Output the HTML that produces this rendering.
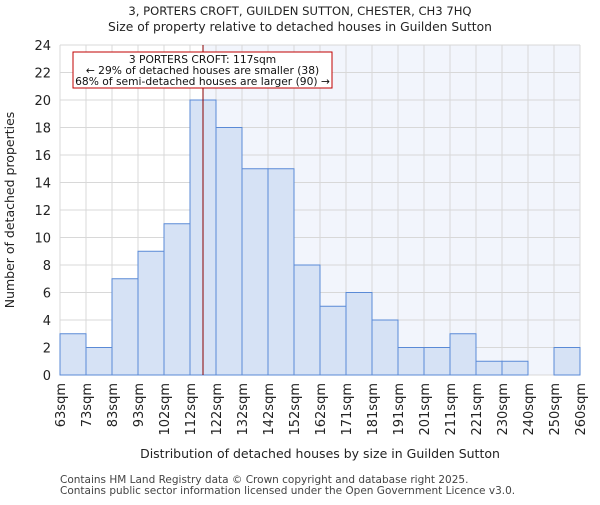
<!DOCTYPE html>
<html><head><meta charset="utf-8"><style>body{margin:0;background:#fff}svg{font-family:"DejaVu Sans","Liberation Sans",sans-serif}</style></head>
<body>
<svg id="c" width="600" height="500"></svg>
<script>
const categories=["63sqm","73sqm","83sqm","93sqm","102sqm","112sqm","122sqm","132sqm","142sqm","152sqm","162sqm","171sqm","181sqm","191sqm","201sqm","211sqm","221sqm","230sqm","240sqm","250sqm","260sqm"];
const counts=[3,2,7,9,11,20,18,15,15,8,5,6,4,2,2,3,1,1,0,2];
const yTicks=[0,2,4,6,8,10,12,14,16,18,20,22,24];
const markerBin=5.5;
const NS="http://www.w3.org/2000/svg";
const svg=document.getElementById('c');
const L=60,R=580,T=45,B=375,yMax=24;
const xs=i=>L+i*(R-L)/counts.length;
const ys=v=>B-v*(B-T)/yMax;
function el(t,a,p){const e=document.createElementNS(NS,t);for(const k in a)e.setAttribute(k,a[k]);(p||svg).appendChild(e);return e;}
let e;
e=el('rect',{x:xs(markerBin),y:T,width:R-xs(markerBin),height:B-T,fill:'#f2f5fc'});

for(let i=0;i<=counts.length;i++){e=el('line',{x1:xs(i),x2:xs(i),y1:T,y2:B,stroke:'#d8d8d8'});}
yTicks.forEach(v=>{e=el('line',{x1:L,x2:R,y1:ys(v),y2:ys(v),stroke:'#d8d8d8'});
e=el('text',{x:L-9,y:ys(v)+5,'text-anchor':'end','font-size':13,fill:'#222'});e.textContent=v;});
counts.forEach((v,i)=>{e=el('rect',{x:xs(i),y:ys(v),width:xs(i+1)-xs(i),height:B-ys(v),fill:'#d6e2f5',stroke:'#5a8ad6','stroke-width':1});});
categories.forEach((c,i)=>{const x=xs(i),y=B+8;e=el('text',{x:x+5,y:y,'text-anchor':'end','font-size':13,fill:'#222',transform:`rotate(-90 ${x+5} ${y})`});e.textContent=c;});
e=el('line',{x1:xs(markerBin),x2:xs(markerBin),y1:T,y2:B,stroke:'#8b0000','stroke-width':1});
e=el('rect',{x:73,y:52,width:259,height:36,fill:'#fff',stroke:'#c00000'});
["3 PORTERS CROFT: 117sqm","← 29% of detached houses are smaller (38)","68% of semi-detached houses are larger (90) →"].forEach((t,i)=>{e=el('text',{x:202.5,y:63+i*11,'text-anchor':'middle','font-size':10.7,fill:'#111'});e.textContent=t;});
e=el('text',{x:300,y:15,'text-anchor':'middle','font-size':11.6,fill:'#222'});e.textContent="3, PORTERS CROFT, GUILDEN SUTTON, CHESTER, CH3 7HQ";
e=el('text',{x:300,y:31,'text-anchor':'middle','font-size':12.3,fill:'#222'});e.textContent="Size of property relative to detached houses in Guilden Sutton";
e=el('text',{x:320,y:458,'text-anchor':'middle','font-size':12.5,fill:'#222'});e.textContent="Distribution of detached houses by size in Guilden Sutton";
e=el('text',{x:14,y:210,'text-anchor':'middle','font-size':12.5,fill:'#222',transform:'rotate(-90 14 210)'});e.textContent="Number of detached properties";
e=el('text',{x:60,y:483,'font-size':10.5,fill:'#444'});e.textContent="Contains HM Land Registry data © Crown copyright and database right 2025.";
e=el('text',{x:60,y:494,'font-size':10.5,fill:'#444'});e.textContent="Contains public sector information licensed under the Open Government Licence v3.0.";
</script>
</body></html>
